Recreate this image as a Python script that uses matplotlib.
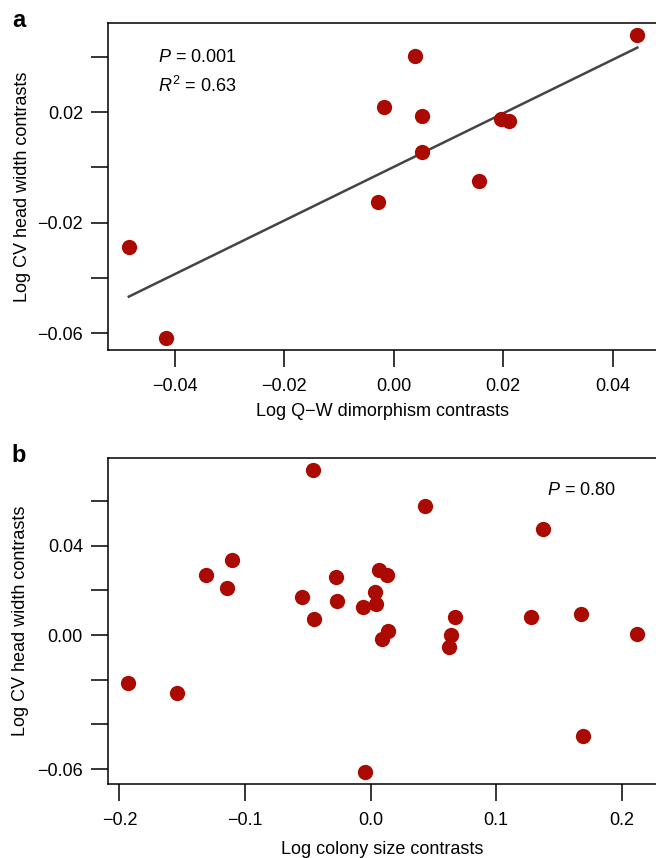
import numpy as np
import matplotlib
matplotlib.use("Agg")
import matplotlib.pyplot as plt

plt.rcParams['font.family'] = ['Liberation Sans', 'DejaVu Sans']
plt.rcParams['mathtext.fontset'] = 'custom'
plt.rcParams['mathtext.rm'] = 'Liberation Sans'
plt.rcParams['mathtext.it'] = 'Liberation Sans:italic'

# panel a: Q-W dimorphism vs CV head width
dimorph_x = [-0.0484, -0.0416, 0.0445, 0.0038, -0.0017, 0.0051, 0.0196, 0.0210, 0.0052, 0.0155, -0.0029]
cv_a_y = [-0.0288, -0.0616, 0.0478, 0.0404, 0.0217, 0.0186, 0.0174, 0.0169, 0.0054, -0.0050, -0.0124]
fit_x = [-0.0484, 0.0445]
fit_y = [-0.0468, 0.0433]

# panel b: colony size vs CV head width
colony_x = [-0.1928, -0.1538, -0.1307, -0.1105, -0.1147, -0.0550, -0.0454, -0.0457,
            0.0433, 0.1373, -0.0276, -0.0266, 0.0069, 0.0132, 0.0037, 0.0042,
            -0.0064, 0.0140, 0.0090, 0.0672, 0.0642, 0.0626, 0.1275, 0.1678,
            0.2124, 0.1694, -0.0043]
cv_b_y = [-0.0213, -0.0261, 0.0267, 0.0334, 0.0210, 0.0171, 0.0072, 0.0738,
          0.0577, 0.0474, 0.0258, 0.0151, 0.0291, 0.0270, 0.0191, 0.0139,
          0.0124, 0.0017, -0.0019, 0.0081, 0.0001, -0.0052, 0.0082, 0.0093,
          0.0006, -0.0452, -0.0614]

a_xticks = [-0.04, -0.02, 0.00, 0.02, 0.04]
a_xlabels = ['\u22120.04', '\u22120.02', '0.00', '0.02', '0.04']
a_yticks = [0.04, 0.02, 0.00, -0.02, -0.04, -0.06]
a_ylabels = ['', '0.02', '', '\u22120.02', '', '\u22120.06']

b_xticks = [-0.2, -0.1, 0.0, 0.1, 0.2]
b_xlabels = ['\u22120.2', '\u22120.1', '0.0', '0.1', '0.2']
b_yticks = [0.06, 0.04, 0.02, 0.00, -0.02, -0.04, -0.06]
b_ylabels = ['', '0.04', '', '0.00', '', '', '\u22120.06']

red = '#aa0a00'
W, H = 656, 858
fig = plt.figure(figsize=(W / 100, H / 100), dpi=100)


def style(ax):
    ax.spines['right'].set_visible(False)
    for s in ['left', 'top', 'bottom']:
        ax.spines[s].set_linewidth(1.1)
    ax.tick_params(direction='out', length=12.5, width=1.1, labelsize=13)
    ax.tick_params(axis='x', pad=7.5)
    ax.tick_params(axis='y', pad=5.5)


ax1 = fig.add_axes([108 / W, 1 - 350 / H, 1 - 108 / W, 327 / H])
ax1.scatter(dimorph_x, cv_a_y, s=121, color=red, linewidths=0, zorder=3)
ax1.plot(fit_x, fit_y, color='#444444', lw=1.8, zorder=2)
ax1.set_xlim(-0.0522, 0.0479)
ax1.set_ylim(-0.0661, 0.0522)
ax1.set_xticks(a_xticks)
ax1.set_xticklabels(a_xlabels)
ax1.set_yticks(a_yticks)
ax1.set_yticklabels(a_ylabels)
style(ax1)
ax1.set_xlabel('Log Q\u2212W dimorphism contrasts', fontsize=13)
ax1.set_ylabel('Log CV head width contrasts', fontsize=13)
ax1.xaxis.set_label_coords(0.5, -0.162)
ax1.yaxis.set_label_coords(-0.141, 0.5)
ax1.text(0.091, 0.896, r'$\it{P}$ = 0.001', transform=ax1.transAxes,
         fontsize=13, va='center', ha='left')
ax1.text(0.091, 0.807, r'$\it{R}^2$ = 0.63', transform=ax1.transAxes,
         fontsize=13, va='center', ha='left')

ax2 = fig.add_axes([108 / W, 1 - 784.3 / H, 1 - 108 / W, 326.3 / H])
ax2.scatter(colony_x, cv_b_y, s=121, color=red, linewidths=0, zorder=3)
ax2.set_xlim(-0.2091, 0.2273)
ax2.set_ylim(-0.0668, 0.0792)
ax2.set_xticks(b_xticks)
ax2.set_xticklabels(b_xlabels)
ax2.set_yticks(b_yticks)
ax2.set_yticklabels(b_ylabels)
style(ax2)
ax2.set_xlabel('Log colony size contrasts', fontsize=13)
ax2.set_ylabel('Log CV head width contrasts', fontsize=13)
ax2.xaxis.set_label_coords(0.5, -0.173)
ax2.yaxis.set_label_coords(-0.145, 0.5)
ax2.text(0.8006, 0.900, r'$\it{P}$ = 0.80', transform=ax2.transAxes,
         fontsize=13, va='center', ha='left')

fig.text(12 / W, 1 - 27 / H, 'a', fontsize=17, fontweight='bold', va='baseline')
fig.text(11 / W, 1 - 462 / H, 'b', fontsize=17, fontweight='bold', va='baseline')

fig.savefig('out.png', dpi=100)
